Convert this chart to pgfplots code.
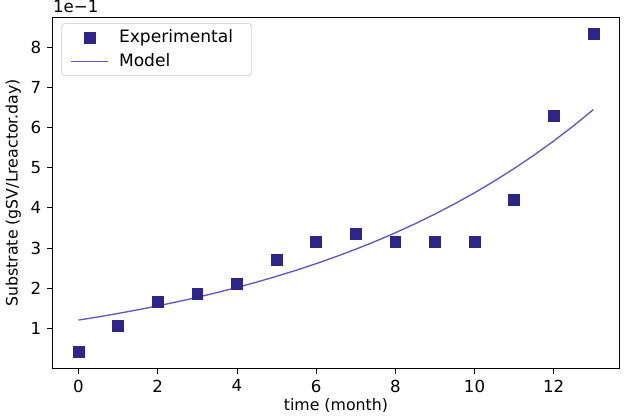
\documentclass[border=0pt]{standalone}
\usepackage{pgfplots}
\pgfplotsset{compat=1.18}
\usepackage{fontspec}
\setmainfont{DejaVu Sans}
\definecolor{expc}{RGB}{46,36,138}
\definecolor{modc}{RGB}{95,85,205}
\pgfplotsset{
  mylineleg/.style={legend image code/.code={\draw[##1] plot coordinates {(0cm,0cm) (0.8cm,0cm)};}},
  mymarkleg/.style={legend image code/.code={\draw[mark repeat=2,mark phase=2,##1] plot coordinates {(0cm,0cm) (0.4cm,0cm) (0.8cm,0cm)};}},
}
\begin{document}
\begin{tikzpicture}
\begin{axis}[
  scale only axis,
  width=341pt, height=211pt,
  xmin=-0.65, xmax=13.65,
  ymin=0.0025, ymax=8.7475,
  xtick={0,2,...,12},
  ytick={1,...,8},
  tick align=outside,
  xtick pos=bottom, ytick pos=left,
  major tick length=3.5pt,
  tick style={black, line width=0.5pt},
  axis line style={black, line width=0.6pt},
  /pgf/number format/assume math mode=true,
  ticklabel style={font=\fontsize{10}{12}\selectfont},
  xlabel={time (month)},
  ylabel={Substrate (gSV/Lreactor.day)},
  label style={font=\fontsize{9.5}{11}\selectfont},
  xlabel style={yshift=3pt},
  ylabel style={yshift=-1pt},
  clip=false,
  legend cell align=left,
  legend style={font=\fontsize{10.3}{12}\selectfont, draw=black!20, rounded corners=2pt, fill=white, row sep=1pt, inner xsep=5pt, inner ysep=2pt, at={(0.015,0.985)}, anchor=north west, nodes={inner xsep=6pt}},
]
\addplot[only marks, mark=square*, mark size=3.3pt, color=expc, mark options={fill=expc, draw=expc}, mymarkleg]
coordinates {(0,0.4) (1,1.05) (2,1.65) (3,1.85) (4,2.1) (5,2.7) (6,3.15) (7,3.35) (8,3.15) (9,3.15) (10,3.15) (11,4.2) (12,6.3) (13,8.35)};
\addlegendentry{Experimental}
\addplot[color=modc, line width=0.8pt, no marks, mylineleg]
coordinates {(0,1.200) (0.5,1.280) (1,1.366) (1.5,1.457) (2,1.555) (2.5,1.658) (3,1.769) (3.5,1.887) (4,2.014) (4.5,2.148) (5,2.292) (5.5,2.445) (6,2.608) (6.5,2.783) (7,2.969) (7.5,3.167) (8,3.379) (8.5,3.605) (9,3.846) (9.5,4.103) (10,4.377) (10.5,4.670) (11,4.982) (11.5,5.315) (12,5.670) (12.5,6.049) (13,6.453)};
\addlegendentry{Model}
\node[anchor=south west, inner sep=0pt, font=\fontsize{10}{12}\selectfont] at ([yshift=3pt]rel axis cs:0,1) {1e\textminus1};
\path (rel axis cs:1,0) ++(15pt,0pt) coordinate (r);
\path (r) rectangle (r);
\end{axis}
\end{tikzpicture}
\end{document}
